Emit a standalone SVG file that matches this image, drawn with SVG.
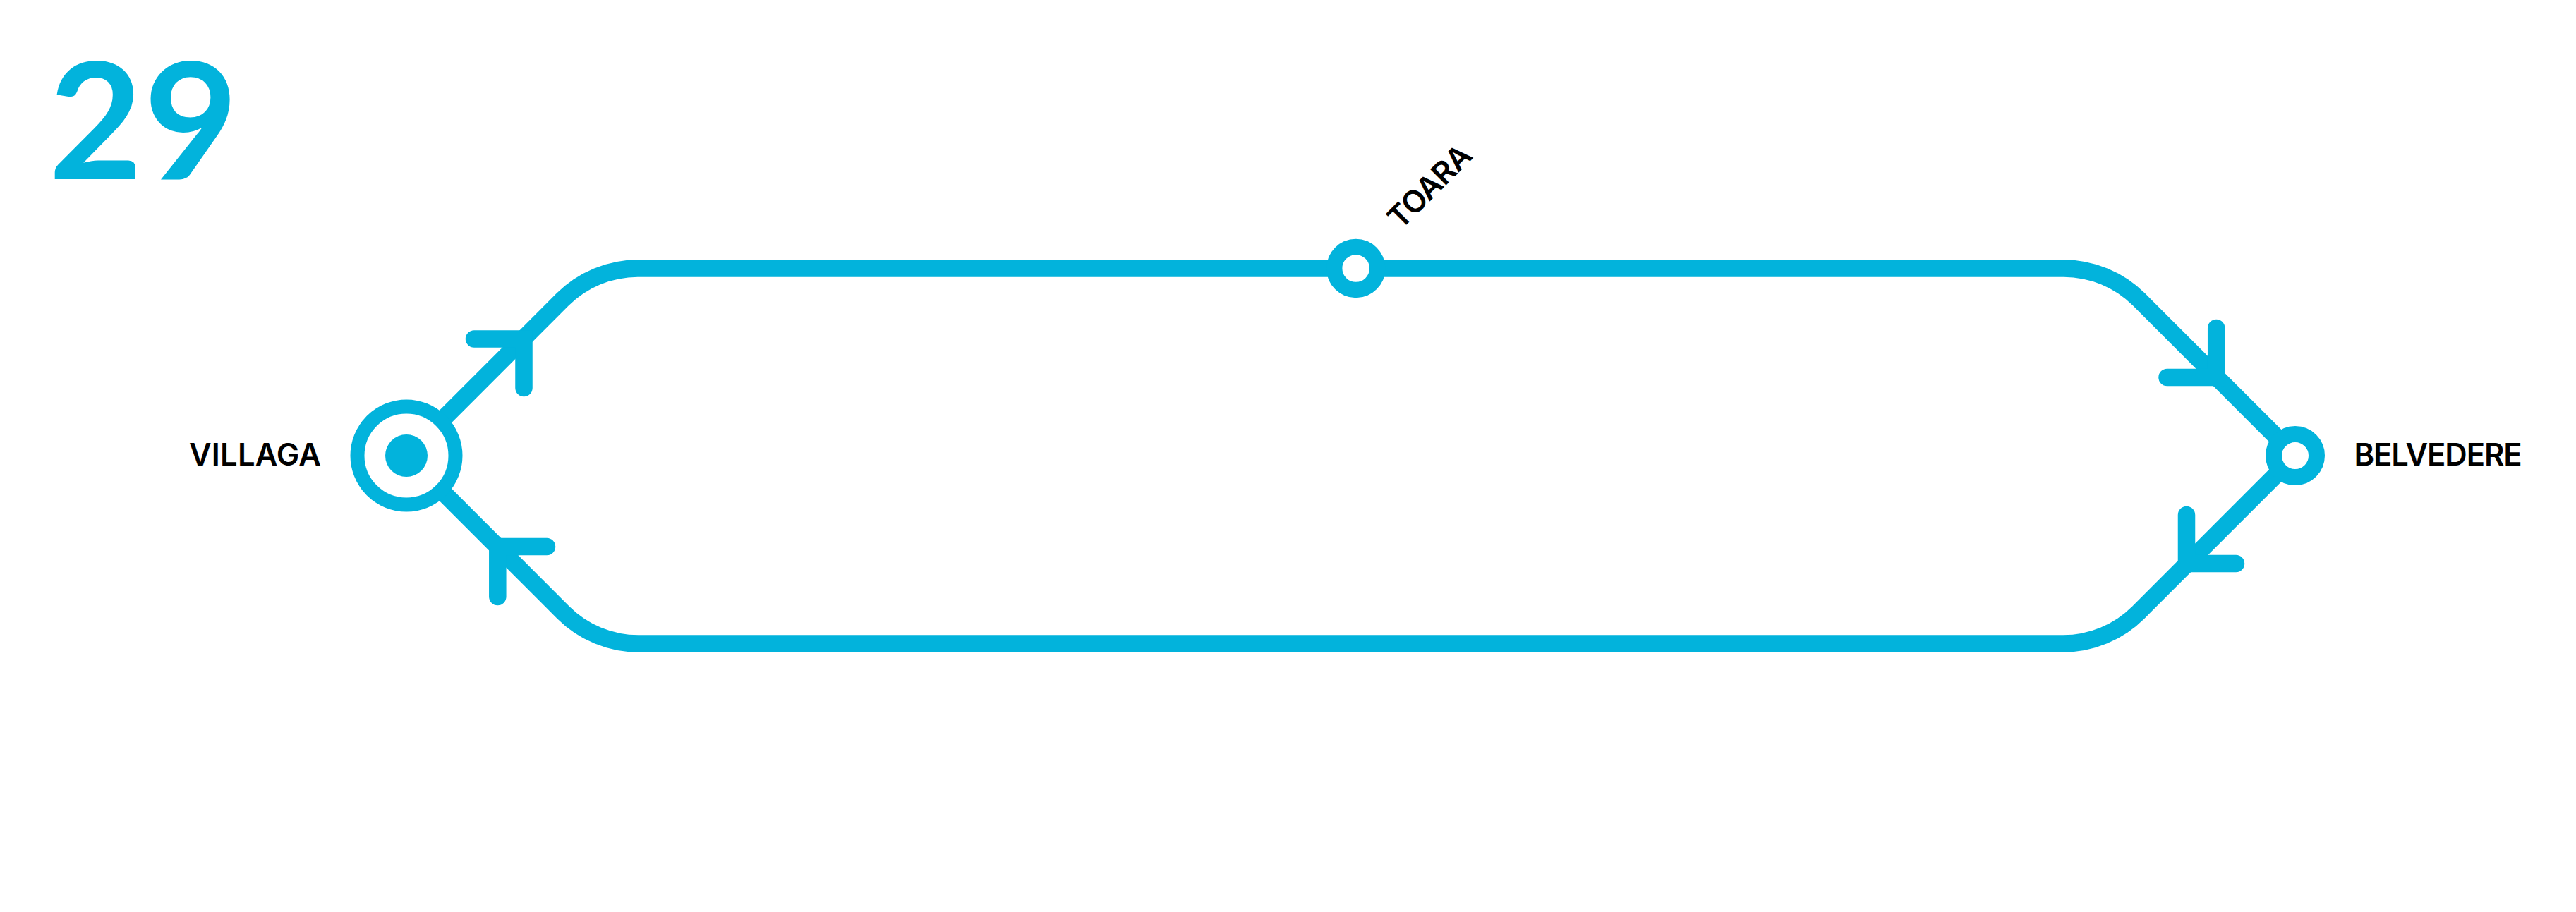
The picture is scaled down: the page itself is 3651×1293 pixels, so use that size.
<svg xmlns="http://www.w3.org/2000/svg" width="3651" height="1293" viewBox="0 0 3651 1293">
<style>
.line{fill:none;stroke:#02b3dc;stroke-width:24.5}
.arrow{fill:none;stroke:#02b3dc;stroke-width:24.5;stroke-linecap:round;stroke-linejoin:miter}
.stop{fill:#fff;stroke:#02b3dc}
.label{font-family:Inter,"Liberation Sans",sans-serif;font-weight:600;font-size:43.5px;fill:#000}
.num{font-family:Lato,"Liberation Sans",sans-serif;font-weight:700;font-size:230px;fill:#02b3dc}
</style>
<rect width="3651" height="1293" fill="#fff"/>
<text id="route-number" class="num" x="69 204" y="254">29</text>
<g id="connectors">
<path class="line" d="M576 646 L797.3 424.7 A151 151 0 0 1 904 380.5 H2925 A151 151 0 0 1 3031.7 424.7 L3253 646 L3030.7 868.3 A151 151 0 0 1 2924 912.5 H905 A151 151 0 0 1 798.3 868.3 Z"/>
<path class="arrow" d="M672 480.5 H742.5 V550"/>
<path class="arrow" d="M775 775 H705.3 V846"/>
<path class="arrow" d="M3071.5 535 H3141.2 V465"/>
<path class="arrow" d="M3169 799 H3099 V730"/>
</g>
<g id="villaga">
<circle class="stop" cx="576" cy="646" r="69.5" stroke-width="20"/>
<circle cx="576" cy="646" r="30" fill="#02b3dc"/>
<text class="label" x="268" y="659.5" textLength="187" lengthAdjust="spacing">VILLAGA</text>
</g>
<g id="toara">
<circle class="stop" cx="1921.7" cy="380.5" r="30.5" stroke-width="22.4"/>
<text class="label" transform="translate(1985 327) rotate(-45)" textLength="147" lengthAdjust="spacing">TOARA</text>
</g>
<g id="belvedere">
<circle class="stop" cx="3253" cy="646" r="30.5" stroke-width="23"/>
<text class="label" x="3336.5" y="659.5" textLength="238" lengthAdjust="spacing">BELVEDERE</text>
</g>
</svg>
